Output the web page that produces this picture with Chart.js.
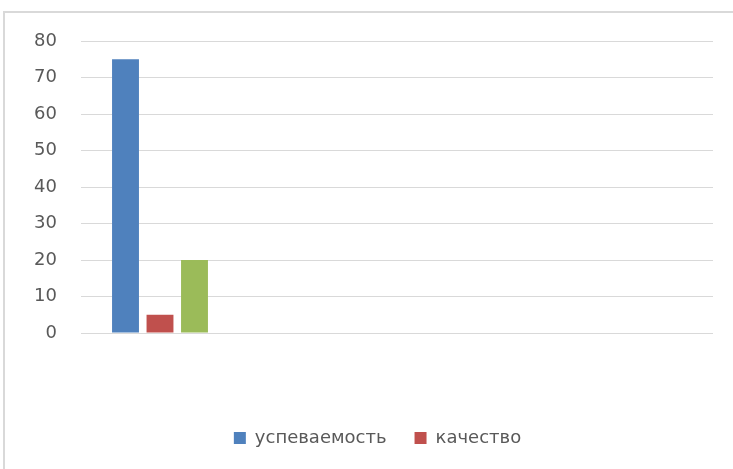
<!DOCTYPE html>
<html>
<head>
<meta charset="utf-8">
<script src="https://cdn.jsdelivr.net/npm/chart.js@4/dist/chart.umd.min.js"></script>
<style>
  html, body { margin: 0; padding: 0; background: #fff; overflow: hidden; }
  #frame { position: absolute; left: 3px; top: 11px; width: 800px; height: 520px; border: 2px solid #d9d9d9; }
  #chart { position: absolute; left: 0; top: 0; }
</style>
</head>
<body>
<div id="frame"></div>
<canvas id="chart" width="733" height="469"></canvas>
<script>
const categories = ["", "", "", ""];
const uspevaemost = [75, null, null, null];
const kachestvo = [5, null, null, null];
const third = [20, null, null, null];

const font = { family: "DejaVu Sans", size: 18 };

// nudge the legend a little to the right, like in the original
const shiftLegend = {
    id: "shiftLegend",
    afterLayout(chart) {
        chart.legend.left += 6;
        chart.legend.right += 6;
    }
};

new Chart(document.getElementById("chart"), {
    type: "bar",
    data: {
        labels: categories,
        datasets: [
            { label: "успеваемость", data: uspevaemost, backgroundColor: "#4F81BD" },
            { label: "качество", data: kachestvo, backgroundColor: "#C0504D" },
            { label: "", data: third, backgroundColor: "#9BBB59" }
        ]
    },
    options: {
        responsive: false,
        animation: false,
        categoryPercentage: 0.655,
        barPercentage: 0.78,
        layout: { padding: { top: 41, left: 30, right: 20, bottom: 12 } },
        plugins: {
            tooltip: { enabled: false },
            legend: {
                position: "bottom",
                labels: {
                    boxWidth: 12,
                    boxHeight: 12,
                    padding: 28,
                    color: "#595959",
                    font: font,
                    filter: item => item.text !== ""
                }
            }
        },
        scales: {
            x: {
                grid: { display: false },
                border: { display: false },
                ticks: { display: false },
                afterFit: axis => { axis.height = 68; }
            },
            y: {
                min: 0,
                max: 80,
                ticks: { stepSize: 10, color: "#595959", font: font, padding: 24 },
                grid: { color: "#d9d9d9", lineWidth: 1, drawTicks: false },
                border: { display: false },
                afterFit: axis => { axis.width = 51; }
            }
        }
    },
    plugins: [shiftLegend]
});
</script>
</body>
</html>
